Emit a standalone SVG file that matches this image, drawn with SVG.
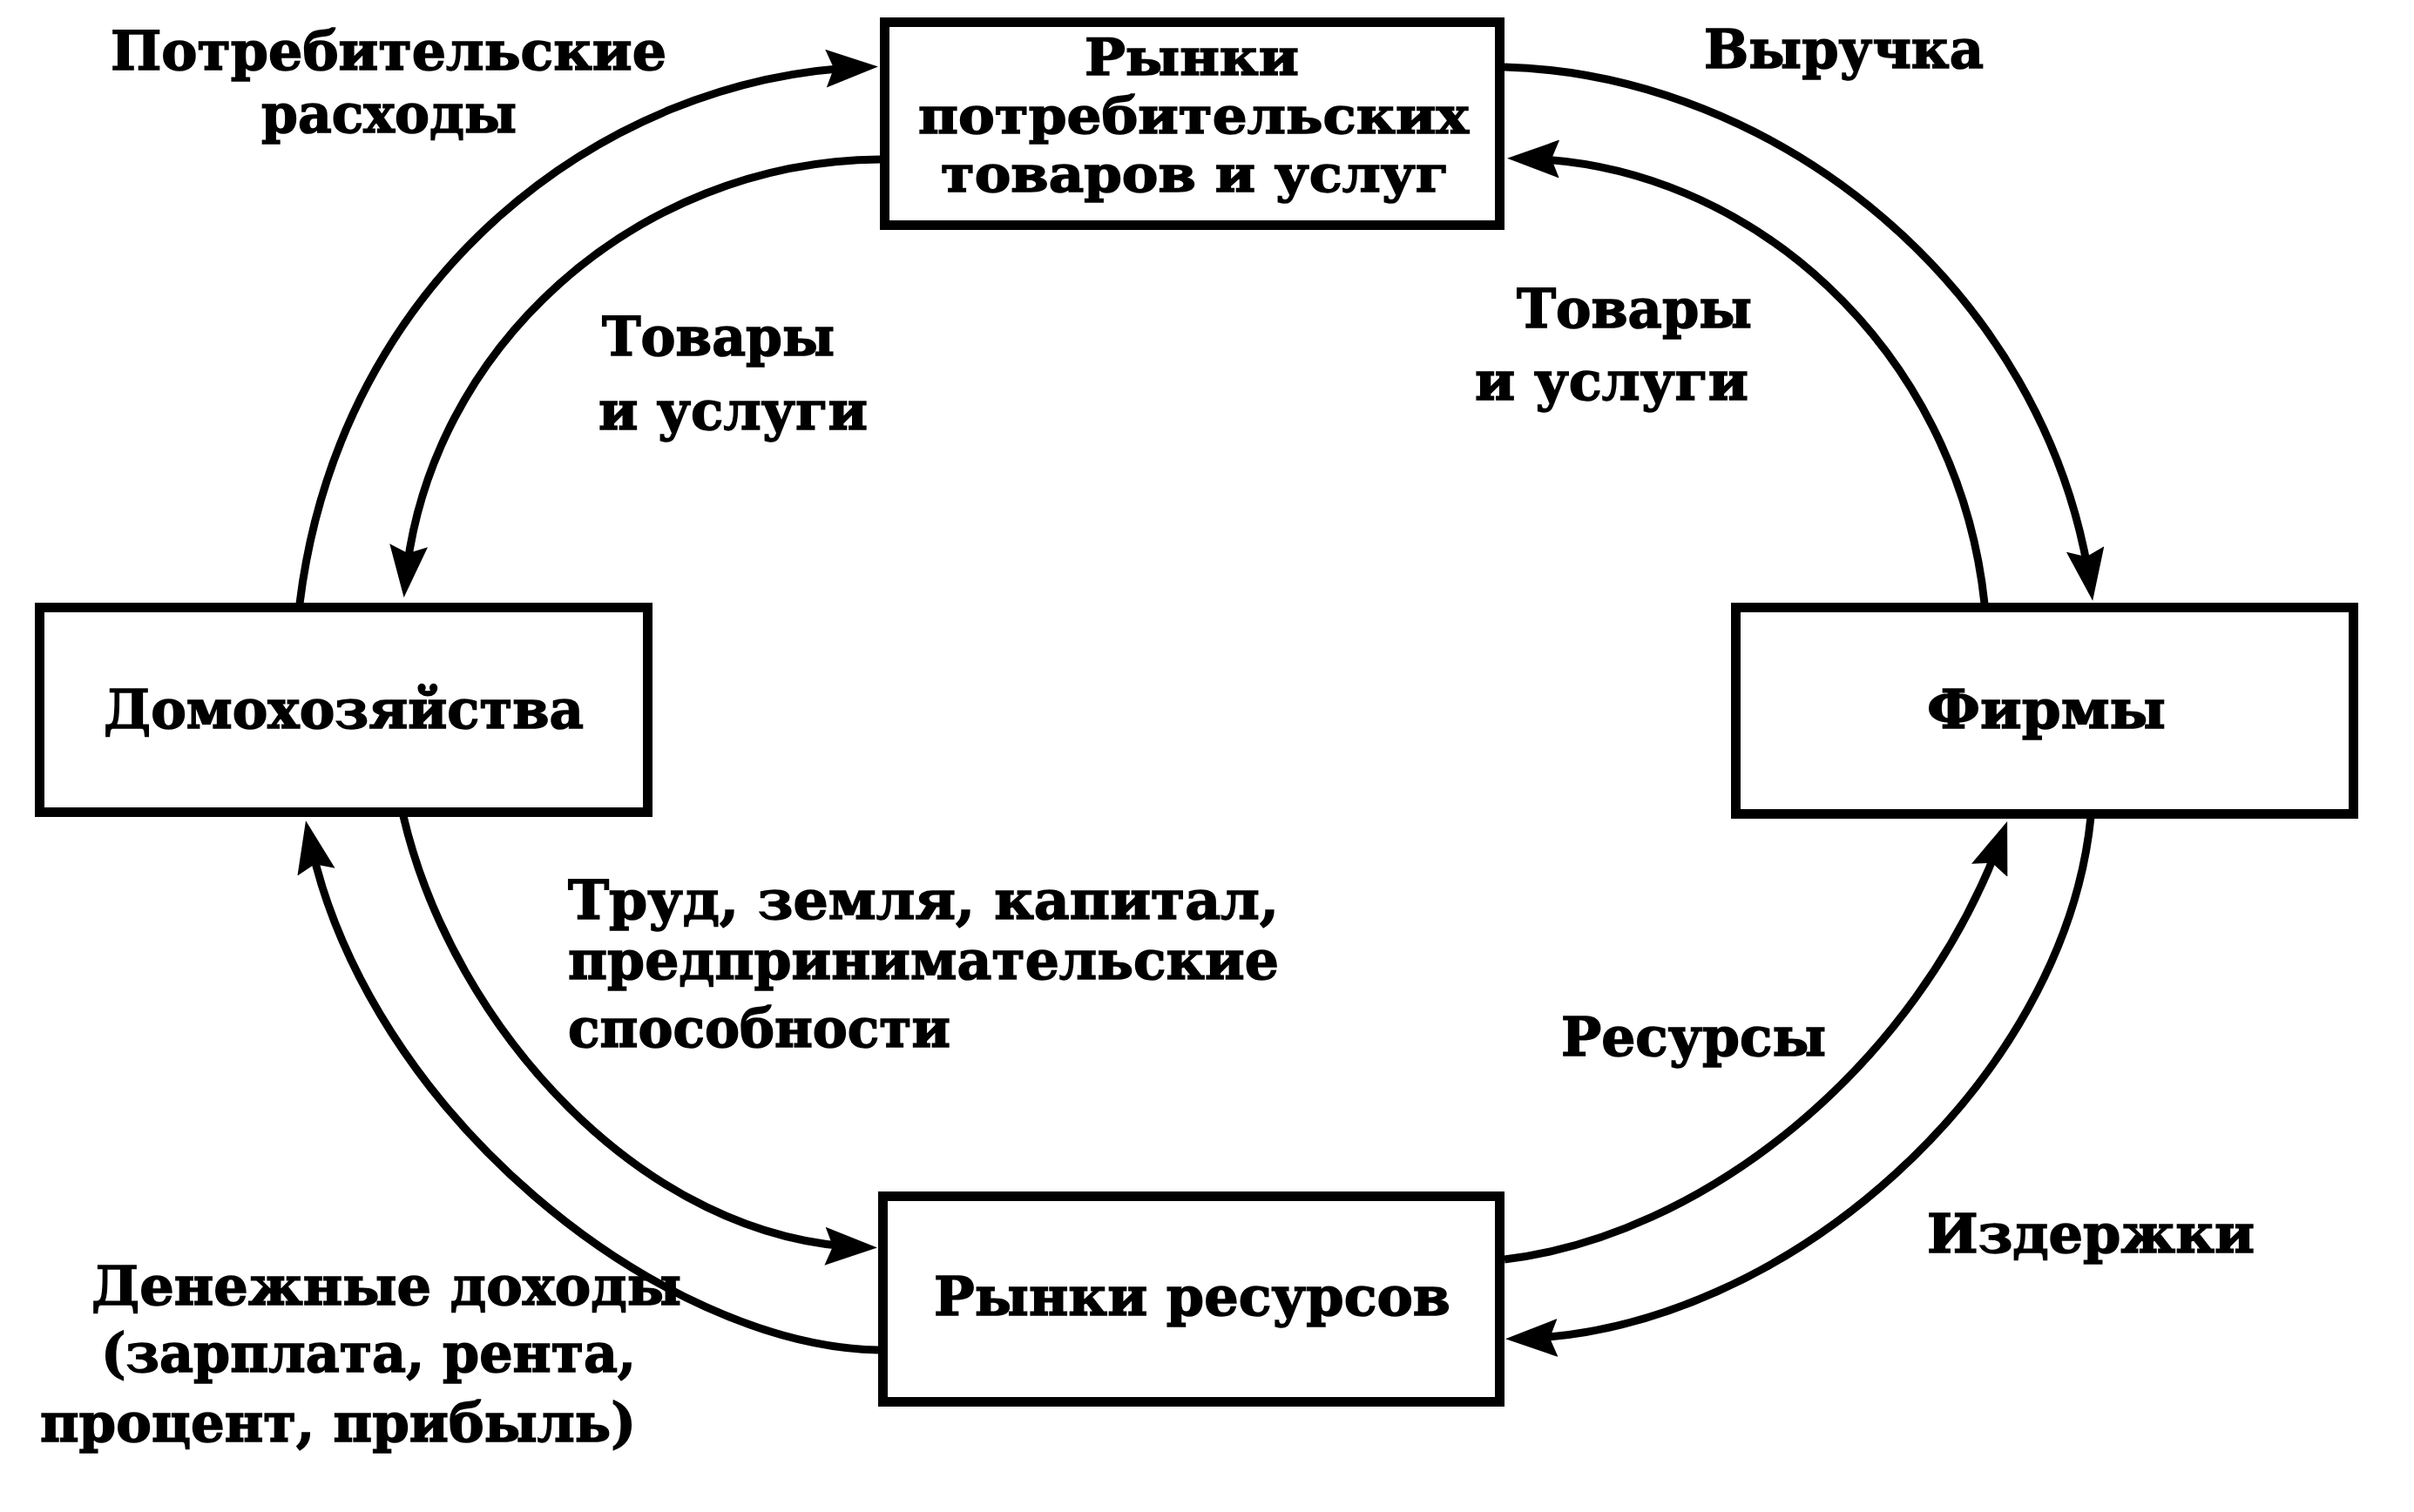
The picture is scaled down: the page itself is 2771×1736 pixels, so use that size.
<svg xmlns="http://www.w3.org/2000/svg" width="2771" height="1736" viewBox="0 0 2771 1736">
<defs>
<style>
.box{fill:#fff;stroke:#000;stroke-width:11}
.con{fill:none;stroke:#000;stroke-width:9;marker-end:url(#ah)}
text{font-family:"DejaVu Serif","Liberation Serif",serif;font-weight:bold;font-size:62px;fill:#000;stroke:#000;stroke-width:1.5}
.tb{font-size:57px}
</style>
<marker id="ah" viewBox="0 0 60 44" markerUnits="userSpaceOnUse" markerWidth="60" markerHeight="44" refX="45" refY="22" orient="auto">
<path d="M0,0 L60,22 L0,44 L9,22 Z" fill="#000"/>
</marker>
</defs>
<rect width="2771" height="1736" fill="#fff"/>
<g id="connectors">
<path class="con" d="M344,693 C390,320 690,88 993,77"/>
<path class="con" d="M1010,183 C730,185 490,400 465,671"/>
<path class="con" d="M1727,77 C2037,85 2350,330 2400,675"/>
<path class="con" d="M2278,693 C2247,400 2007,185 1745,182"/>
<path class="con" d="M463,937 C520,1180 740,1425 992,1432"/>
<path class="con" d="M1008,1550 C760,1545 420,1280 354,957"/>
<path class="con" d="M1727,1446 C1950,1420 2200,1230 2299,957"/>
<path class="con" d="M2400,938 C2370,1240 2050,1530 1743,1537"/>
</g>
<g id="node-consumer-markets">
<rect class="box" x="1015.5" y="25.5" width="706" height="233"/>
<text class="tb" x="1245" y="86" textLength="246" lengthAdjust="spacingAndGlyphs">Рынки</text>
<text class="tb" x="1054" y="153" textLength="632" lengthAdjust="spacingAndGlyphs">потребительских</text>
<text class="tb" x="1080" y="220" textLength="583" lengthAdjust="spacingAndGlyphs">товаров и услуг</text>
</g>
<g id="node-households">
<rect class="box" x="45.5" y="697.5" width="698" height="235"/>
<text x="119" y="836" textLength="551" lengthAdjust="spacingAndGlyphs">Домохозяйства</text>
</g>
<g id="node-firms">
<rect class="box" x="1992.5" y="697.5" width="709" height="237"/>
<text x="2212" y="836" textLength="274" lengthAdjust="spacingAndGlyphs">Фирмы</text>
</g>
<g id="node-resource-markets">
<rect class="box" x="1013.5" y="1373.5" width="708" height="236"/>
<text x="1072" y="1510" textLength="593" lengthAdjust="spacingAndGlyphs">Рынки ресурсов</text>
</g>
<g id="labels">
<text x="127" y="80" textLength="638" lengthAdjust="spacingAndGlyphs">Потребительские</text>
<text x="300" y="152" textLength="293" lengthAdjust="spacingAndGlyphs">расходы</text>
<text x="1956" y="78" textLength="321" lengthAdjust="spacingAndGlyphs">Выручка</text>
<text x="691" y="408" textLength="267" lengthAdjust="spacingAndGlyphs">Товары</text>
<text x="687" y="493" textLength="309" lengthAdjust="spacingAndGlyphs">и услуги</text>
<text x="1741" y="376" textLength="270" lengthAdjust="spacingAndGlyphs">Товары</text>
<text x="1693" y="459" textLength="314" lengthAdjust="spacingAndGlyphs">и услуги</text>
<text x="652" y="1055" textLength="816" lengthAdjust="spacingAndGlyphs">Труд,  земля, капитал,</text>
<text x="652" y="1124" textLength="816" lengthAdjust="spacingAndGlyphs">предпринимательские</text>
<text x="652" y="1202" textLength="439" lengthAdjust="spacingAndGlyphs">способности</text>
<text x="1792" y="1212" textLength="304" lengthAdjust="spacingAndGlyphs">Ресурсы</text>
<text x="2212" y="1438" textLength="376" lengthAdjust="spacingAndGlyphs">Издержки</text>
<text x="105" y="1498" textLength="677" lengthAdjust="spacingAndGlyphs">Денежные  доходы</text>
<text x="116" y="1575" textLength="614" lengthAdjust="spacingAndGlyphs">(зарплата, рента,</text>
<text x="46" y="1655" textLength="684" lengthAdjust="spacingAndGlyphs">процент, прибыль)</text>
</g>
</svg>
